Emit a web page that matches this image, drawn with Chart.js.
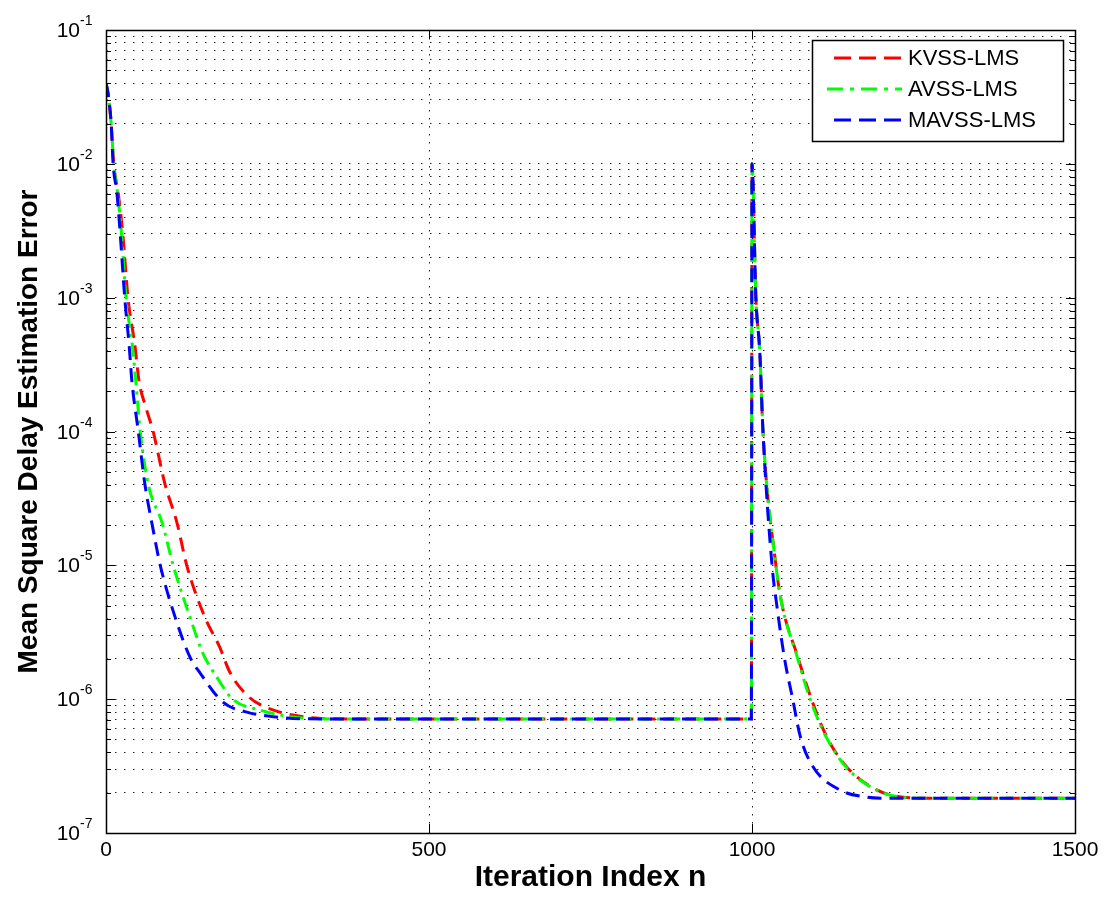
<!DOCTYPE html>
<html>
<head>
<meta charset="utf-8">
<script src="https://cdn.jsdelivr.net/npm/chart.js@4.4.1/dist/chart.umd.min.js"></script>
<style>
html, body { margin: 0; padding: 0; background: #fff; }
</style>
</head>
<body>
<canvas id="mse" width="1104" height="901"></canvas>
<script>
// values: [iteration n, mean square error]
var kvss = [
  [0, 4.0e-2], [3, 3.4e-2], [8, 2.0e-2], [12, 1.0e-2], [19, 6.0e-3], [26, 3.0e-3],
  [34, 1.0e-3], [45, 4.3e-4], [51, 2.4e-4], [62, 1.5e-4], [73, 1.0e-4], [91, 4.1e-5],
  [110, 2.07e-5], [125, 1.0e-5], [153, 4.1e-6], [176, 2.45e-6], [192, 1.58e-6],
  [222, 1.03e-6], [245, 8.8e-7], [269, 8.0e-7], [305, 7.4e-7], [340, 7.15e-7],
  [400, 7.1e-7], [999, 7.1e-7], [1000, 1.0e-2], [1006, 1.0e-3], [1012, 4.0e-4],
  [1017, 1.0e-4], [1037, 1.0e-5], [1046, 5.2e-6], [1071, 2.06e-6], [1092, 1.0e-6],
  [1116, 5.2e-7], [1147, 3.1e-7], [1193, 2.1e-7], [1234, 1.85e-7], [1270, 1.82e-7],
  [1500, 1.82e-7]
];
var avss = [
  [0, 4.0e-2], [3, 3.4e-2], [8, 2.0e-2], [12, 1.0e-2], [18, 6.0e-3], [24, 3.0e-3],
  [31, 1.0e-3], [41, 4.3e-4], [46, 2.4e-4], [53, 1.0e-4], [65, 4.1e-5], [87, 2.07e-5],
  [104, 1.0e-5], [130, 4.1e-6], [150, 2.2e-6], [170, 1.5e-6], [196, 1.0e-6],
  [238, 8.3e-7], [285, 7.4e-7], [330, 7.15e-7], [400, 7.1e-7], [999, 7.1e-7],
  [1000, 1.0e-2], [1006, 1.0e-3], [1012, 4.0e-4], [1017, 1.0e-4], [1037, 1.0e-5],
  [1046, 5.2e-6], [1070, 2.06e-6], [1090, 1.0e-6], [1115, 5.2e-7], [1146, 3.1e-7],
  [1192, 2.1e-7], [1232, 1.85e-7], [1268, 1.82e-7], [1500, 1.82e-7]
];
var mavss = [
  [0, 4.0e-2], [3, 3.4e-2], [8, 2.0e-2], [11, 1.0e-2], [17, 6.0e-3], [22, 3.0e-3],
  [29, 1.0e-3], [36, 4.3e-4], [40, 2.4e-4], [50, 1.0e-4], [60, 4.1e-5], [71, 2.07e-5],
  [84, 1.0e-5], [107, 4.1e-6], [130, 2.06e-6], [146, 1.56e-6], [181, 9.5e-7],
  [218, 8.0e-7], [259, 7.4e-7], [300, 7.15e-7], [400, 7.1e-7], [999, 7.1e-7],
  [1000, 1.0e-2], [1006, 1.0e-3], [1012, 4.0e-4], [1017, 1.0e-4], [1031, 1.0e-5],
  [1038, 5.2e-6], [1050, 2.06e-6], [1063, 1.0e-6], [1075, 5.2e-7], [1095, 3.1e-7],
  [1136, 2.1e-7], [1178, 1.85e-7], [1205, 1.82e-7], [1500, 1.82e-7]
];
var seriesNames = ['KVSS-LMS', 'AVSS-LMS', 'MAVSS-LMS'];
var xTicks = [0, 500, 1000, 1500];
var decades = [-7, -6, -5, -4, -3, -2, -1];

var FONT = '"Liberation Sans", Arial, Helvetica, sans-serif';

function toPts(arr) {
  return arr.map(function (p) { return { x: p[0], y: p[1] }; });
}

// every 1..9 x 10^k position, used for the dotted grid
var yGrid = [];
decades.forEach(function (k) {
  if (k === -1) { yGrid.push(Math.pow(10, k)); return; }
  for (var m = 1; m <= 9; m++) yGrid.push(m * Math.pow(10, k));
});

// MATLAB style frame, inward ticks, 10^k labels and legend box
var matlabAxes = {
  id: 'matlabAxes',
  afterDatasetsDraw: function (chart) {
    var c = chart.ctx, a = chart.chartArea;
    var ys = chart.scales.y, xs = chart.scales.x;
    c.save();
    c.strokeStyle = '#000';
    c.lineWidth = 1;
    c.setLineDash([]);
    c.beginPath();
    yGrid.forEach(function (v) {
      var py = Math.round(ys.getPixelForValue(v)) + 0.5;
      var major = Math.abs(Math.log10(v) - Math.round(Math.log10(v))) < 1e-9;
      var len = major ? 9 : 5;
      c.moveTo(a.left, py); c.lineTo(a.left + len, py);
      c.moveTo(a.right, py); c.lineTo(a.right - len, py);
    });
    xTicks.forEach(function (v) {
      var px = Math.round(xs.getPixelForValue(v)) + 0.5;
      c.moveTo(px, a.bottom); c.lineTo(px, a.bottom - 9);
      c.moveTo(px, a.top); c.lineTo(px, a.top + 9);
    });
    c.stroke();
    c.lineWidth = 1.5;
    c.strokeRect(Math.round(a.left) + 0.5, Math.round(a.top) + 0.5,
      Math.round(a.right - a.left), Math.round(a.bottom - a.top));

    // y tick labels 10^k
    c.fillStyle = '#000';
    decades.forEach(function (k) {
      var py = ys.getPixelForValue(Math.pow(10, k));
      c.font = '21px ' + FONT;
      c.textAlign = 'right';
      c.textBaseline = 'alphabetic';
      c.fillText('10', 80, py + 7);
      c.font = '14px ' + FONT;
      c.textAlign = 'left';
      c.fillText(String(k), 80, py - 5);
    });

    // legend
    var lx = 812, ly = 40, lw = 251, lh = 101;
    c.fillStyle = '#fff';
    c.fillRect(lx, ly, lw, lh);
    c.lineWidth = 1.5;
    c.strokeStyle = '#000';
    c.strokeRect(lx + 0.5, ly + 0.5, lw, lh);
    var rows = [58, 89, 120];
    chart.data.datasets.forEach(function (ds, i) {
      c.save();
      c.strokeStyle = ds.borderColor;
      c.lineWidth = ds.borderWidth;
      c.setLineDash(i === 1 ? [16, 7, 4, 7] : [17, 8]);
      c.beginPath();
      c.moveTo(i === 1 ? 827 : 834, rows[i]);
      c.lineTo(902, rows[i]);
      c.stroke();
      c.restore();
      c.fillStyle = '#000';
      c.font = '22px ' + FONT;
      c.textAlign = 'left';
      c.textBaseline = 'middle';
      c.fillText(ds.label, 908, rows[i] + 1);
    });
    c.restore();
  }
};

var ctx = document.getElementById('mse').getContext('2d');
var chart = new Chart(ctx, {
  type: 'line',
  data: {
    datasets: [{
      label: seriesNames[0],
      data: toPts(kvss),
      borderColor: '#ff0000',
      borderWidth: 3,
      borderDash: [14, 8],
      pointRadius: 0,
      order: 3
    }, {
      label: seriesNames[1],
      data: toPts(avss),
      borderColor: '#00ff00',
      borderWidth: 3,
      borderDash: [14, 6, 3, 6],
      pointRadius: 0,
      order: 2
    }, {
      label: seriesNames[2],
      data: toPts(mavss),
      borderColor: '#0000ff',
      borderWidth: 3,
      borderDash: [14, 8],
      pointRadius: 0,
      order: 1
    }]
  },
  options: {
    responsive: false,
    animation: false,
    devicePixelRatio: 1,
    layout: { padding: { top: 30, right: 29, left: 0, bottom: 0 } },
    plugins: {
      legend: { display: false },
      tooltip: { enabled: false }
    },
    elements: { line: { cubicInterpolationMode: 'monotone' } },
    scales: {
      x: {
        type: 'linear',
        min: 0,
        max: 1500,
        afterBuildTicks: function (s) {
          s.ticks = xTicks.map(function (v) { return { value: v }; });
        },
        afterFit: function (s) { s.height = 68; },
        grid: {
          drawTicks: false,
          lineWidth: 1,
          color: function (c) {
            var v = c.tick ? c.tick.value : 0;
            return (v === 500 || v === 1000) ? '#222' : 'rgba(0,0,0,0)';
          }
        },
        border: { display: false, dash: [1.5, 6.5] },
        ticks: {
          color: '#000',
          padding: 5,
          maxRotation: 0,
          font: { family: FONT, size: 21 },
          callback: function (v) { return String(v); }
        },
        title: {
          display: true,
          text: 'Iteration Index n',
          color: '#000',
          padding: { top: 0, bottom: 5 },
          font: { family: FONT, size: 30, weight: 'bold' }
        }
      },
      y: {
        type: 'logarithmic',
        min: 1e-7,
        max: 1e-1,
        afterBuildTicks: function (s) {
          s.ticks = yGrid.map(function (v) { return { value: v }; });
        },
        afterFit: function (s) { s.width = 106; },
        grid: {
          drawTicks: false,
          lineWidth: 1,
          color: '#222'
        },
        border: { display: false, dash: [1.5, 7.5] },
        ticks: { display: false },
        title: {
          display: true,
          text: 'Mean Square Delay Estimation Error',
          color: '#000',
          padding: { top: 12, bottom: 0 },
          font: { family: FONT, size: 28, weight: 'bold' }
        }
      }
    }
  },
  plugins: [matlabAxes]
});
</script>
</body>
</html>
